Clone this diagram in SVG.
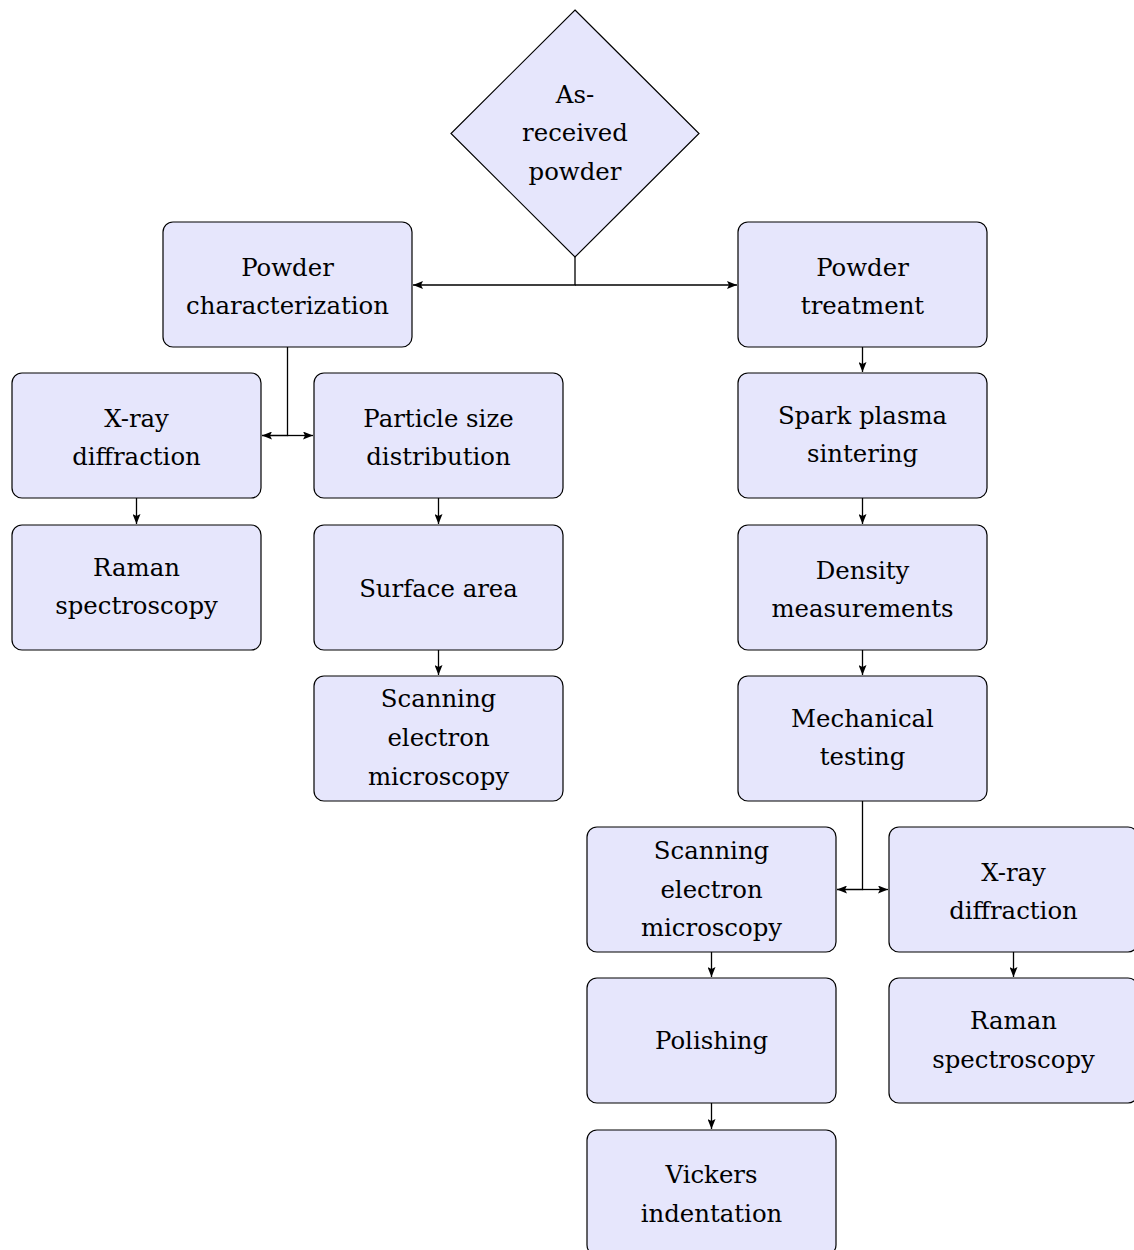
<svg xmlns="http://www.w3.org/2000/svg" width="1134" height="1250" viewBox="0 0 1134 1250">
<style>
.box{fill:#e6e6fc;stroke:#000;stroke-width:1.2}
.t{font-family:"DejaVu Serif",serif;font-size:24.4px;fill:#000;text-anchor:middle}
.c{fill:none;stroke:#000;stroke-width:1.3}
</style>
<defs>
<marker id="ah" viewBox="0 0 10 8" refX="10" refY="4" markerWidth="10" markerHeight="8" markerUnits="userSpaceOnUse" orient="auto">
<path d="M0,0 L10,4 L0,8 L2,4 Z" fill="#000"/>
</marker>
</defs>
<rect width="1134" height="1250" fill="#fff"/>
<g id="connectors">
<path class="c" d="M575,257 V285 H413" marker-end="url(#ah)"/>
<path class="c" d="M575,285 H737" marker-end="url(#ah)"/>
<path class="c" d="M287.5,347 V435.5 H262" marker-end="url(#ah)"/>
<path class="c" d="M287.5,435.5 H313" marker-end="url(#ah)"/>
<path class="c" d="M862.5,801 V889.5 H837" marker-end="url(#ah)"/>
<path class="c" d="M862.5,889.5 H888" marker-end="url(#ah)"/>
<path class="c" d="M862.5,347 V372" marker-end="url(#ah)"/>
<path class="c" d="M862.5,498 V524" marker-end="url(#ah)"/>
<path class="c" d="M862.5,650 V675" marker-end="url(#ah)"/>
<path class="c" d="M136.5,498 V524" marker-end="url(#ah)"/>
<path class="c" d="M438.5,498 V524" marker-end="url(#ah)"/>
<path class="c" d="M438.5,650 V675" marker-end="url(#ah)"/>
<path class="c" d="M711.5,952 V977" marker-end="url(#ah)"/>
<path class="c" d="M711.5,1103 V1129" marker-end="url(#ah)"/>
<path class="c" d="M1013.5,952 V977" marker-end="url(#ah)"/>
</g>
<g id="asreceived">
<polygon class="box" points="575,10 699,133.5 575,257 451,133.5"/>
<text class="t" x="575" y="103">As-</text>
<text class="t" x="575" y="141">received</text>
<text class="t" x="575" y="180">powder</text>
</g>
<g id="powderchar">
<rect class="box" x="163" y="222" width="249" height="125" rx="10"/>
<text class="t" x="287.5" y="276">Powder</text>
<text class="t" x="287.5" y="314">characterization</text>
</g>
<g id="powdertreat">
<rect class="box" x="738" y="222" width="249" height="125" rx="10"/>
<text class="t" x="862.5" y="276">Powder</text>
<text class="t" x="862.5" y="314">treatment</text>
</g>
<g id="xrd1">
<rect class="box" x="12" y="373" width="249" height="125" rx="10"/>
<text class="t" x="136.5" y="427">X-ray</text>
<text class="t" x="136.5" y="465">diffraction</text>
</g>
<g id="psd">
<rect class="box" x="314" y="373" width="249" height="125" rx="10"/>
<text class="t" x="438.5" y="427">Particle size</text>
<text class="t" x="438.5" y="465">distribution</text>
</g>
<g id="raman1">
<rect class="box" x="12" y="525" width="249" height="125" rx="10"/>
<text class="t" x="136.5" y="576">Raman</text>
<text class="t" x="136.5" y="614">spectroscopy</text>
</g>
<g id="surface">
<rect class="box" x="314" y="525" width="249" height="125" rx="10"/>
<text class="t" x="438.5" y="597">Surface area</text>
</g>
<g id="sem1">
<rect class="box" x="314" y="676" width="249" height="125" rx="10"/>
<text class="t" x="438.5" y="707">Scanning</text>
<text class="t" x="438.5" y="746">electron</text>
<text class="t" x="438.5" y="785">microscopy</text>
</g>
<g id="sps">
<rect class="box" x="738" y="373" width="249" height="125" rx="10"/>
<text class="t" x="862.5" y="424">Spark plasma</text>
<text class="t" x="862.5" y="462">sintering</text>
</g>
<g id="density">
<rect class="box" x="738" y="525" width="249" height="125" rx="10"/>
<text class="t" x="862.5" y="579">Density</text>
<text class="t" x="862.5" y="617">measurements</text>
</g>
<g id="mech">
<rect class="box" x="738" y="676" width="249" height="125" rx="10"/>
<text class="t" x="862.5" y="727">Mechanical</text>
<text class="t" x="862.5" y="765">testing</text>
</g>
<g id="sem2">
<rect class="box" x="587" y="827" width="249" height="125" rx="10"/>
<text class="t" x="711.5" y="859">Scanning</text>
<text class="t" x="711.5" y="898">electron</text>
<text class="t" x="711.5" y="936">microscopy</text>
</g>
<g id="xrd2">
<rect class="box" x="889" y="827" width="249" height="125" rx="10"/>
<text class="t" x="1013.5" y="881">X-ray</text>
<text class="t" x="1013.5" y="919">diffraction</text>
</g>
<g id="polish">
<rect class="box" x="587" y="978" width="249" height="125" rx="10"/>
<text class="t" x="711.5" y="1049">Polishing</text>
</g>
<g id="raman2">
<rect class="box" x="889" y="978" width="249" height="125" rx="10"/>
<text class="t" x="1013.5" y="1029">Raman</text>
<text class="t" x="1013.5" y="1068">spectroscopy</text>
</g>
<g id="vickers">
<rect class="box" x="587" y="1130" width="249" height="125" rx="10"/>
<text class="t" x="711.5" y="1183">Vickers</text>
<text class="t" x="711.5" y="1222">indentation</text>
</g>
</svg>
